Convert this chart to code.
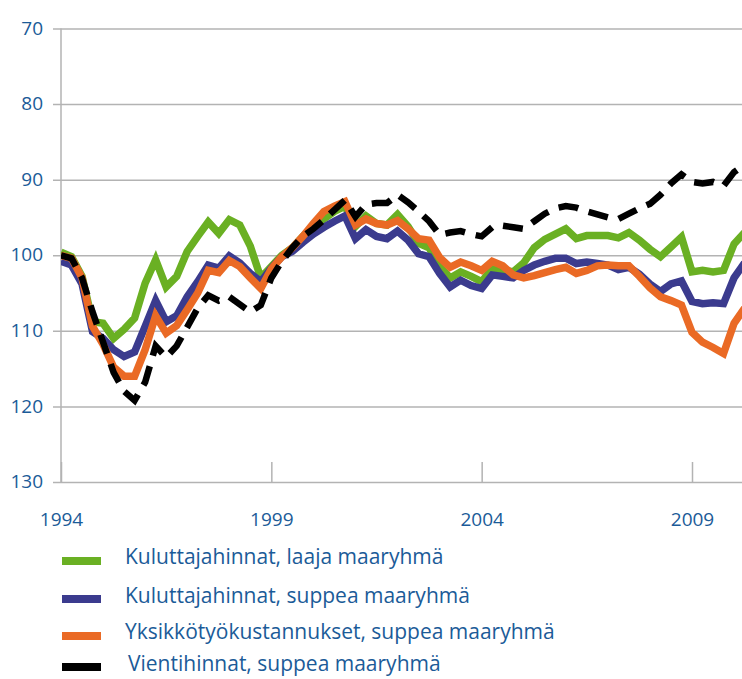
<!DOCTYPE html>
<html>
<head>
<meta charset="utf-8">
<script src="https://cdn.jsdelivr.net/npm/d3@7"></script>
<style>
  body { margin: 0; background: #fff; }
  text { font-family: 'Open Sans', 'Noto Sans', sans-serif; fill: #1b5b98; }
</style>
</head>
<body>
<div id="chart"></div>
<script>
// quarterly index values, 1994Q1 onwards
const startYear = 1994

const kulLaaja = [
  99.6, 100.2, 102.8, 108.8, 109.0, 111.0, 109.8, 108.3, 103.7, 100.6,
  104.2, 102.8, 99.5, 97.5, 95.6, 97.1, 95.3, 96.0, 98.8, 103.0,
  101.5, 100.0, 99.0, 97.5, 96.2, 95.2, 94.2, 93.5, 96.2, 94.8,
  95.8, 96.0, 94.6, 96.2, 98.4, 99.0, 101.5, 103.0, 102.2, 102.8,
  103.5, 101.8, 101.9, 102.2, 101.0, 99.0, 97.9, 97.2, 96.5, 97.8,
  97.4, 97.4, 97.4, 97.7, 97.0, 98.0, 99.2, 100.2, 98.9, 97.6,
  102.2, 102.0, 102.2, 102.0, 98.5, 97.0
]

const kulSuppea = [
  100.8, 101.3, 103.8, 110.1, 111.0, 112.5, 113.4, 112.8, 109.4, 106.0,
  108.8, 108.0, 105.5, 103.5, 101.3, 101.7, 100.1, 101.0, 102.4, 103.5,
  101.7, 100.2, 99.5, 98.3, 97.2, 96.3, 95.5, 94.8, 97.8, 96.6,
  97.5, 97.8, 96.8, 98.0, 99.8, 100.2, 102.4, 104.2, 103.3, 104.0,
  104.4, 102.6, 102.8, 103.0, 102.0, 101.3, 100.8, 100.4, 100.4, 101.1,
  100.9, 101.1, 101.3, 101.9, 101.6, 102.5, 103.8, 104.8, 103.8, 103.4,
  106.1, 106.4, 106.3, 106.4, 103.0, 101.0
]

const yksikko = [
  100.0, 100.4, 103.0, 109.4, 111.8, 114.8, 116.0, 116.0, 112.5, 108.0,
  110.3, 109.3, 107.2, 105.0, 102.0, 102.3, 100.7, 101.5, 103.0, 104.4,
  101.8, 100.2, 99.0, 97.5, 95.8, 94.2, 93.5, 92.9, 96.0, 95.2,
  95.8, 96.0, 95.4, 96.5, 97.8, 98.0, 100.3, 101.6, 100.9, 101.4,
  102.0, 100.8, 101.4, 102.6, 103.0, 102.7, 102.3, 101.9, 101.6, 102.4,
  102.0, 101.4, 101.3, 101.4, 101.4, 102.8, 104.3, 105.5, 106.0, 106.6,
  110.2, 111.5, 112.2, 113.0, 109.0, 107.0
]

const vienti = [
  100.0, 100.4, 103.0, 107.5, 111.5, 115.5, 118.0, 119.2, 116.8, 112.0,
  113.5, 112.0, 109.5, 107.0, 105.3, 106.0, 105.5, 106.5, 107.5, 106.6,
  103.0, 100.8, 99.0, 97.5, 96.5, 95.3, 94.0, 92.7, 94.9, 93.3,
  93.1, 93.1, 92.0, 93.0, 94.2, 95.5, 97.3, 97.0, 96.8, 97.2,
  97.5, 96.3, 96.1, 96.3, 96.5, 95.5, 94.5, 93.8, 93.5, 93.7,
  94.2, 94.6, 95.0, 95.2, 94.5, 93.8, 93.2, 92.0, 90.5, 89.3,
  90.3, 90.5, 90.3, 90.8, 89.0, 88.0
]

const yTicks = [70, 80, 90, 100, 110, 120, 130]
const xTicks = [1994, 1999, 2004, 2009]

const seriesNames = [
  'Kuluttajahinnat, laaja maaryhmä',
  'Kuluttajahinnat, suppea maaryhmä',
  'Yksikkötyökustannukset, suppea maaryhmä',
  'Vientihinnat, suppea maaryhmä'
]
const seriesColors = ['#6ab023', '#3b3b8e', '#ea6a25', '#000000']

const series = [kulLaaja, kulSuppea, yksikko, vienti].map((values, k) => ({
  name: seriesNames[k],
  color: seriesColors[k],
  dashed: k === 3,
  points: values.map((v, i) => ({ t: startYear + i / 4, v: v }))
}))

const margin = { top: 28.5, right: 0, bottom: 197, left: 61 }
const totalWidth = 742
const totalHeight = 679
const width = totalWidth - margin.left - margin.right
const height = totalHeight - margin.top - margin.bottom

const svg = d3
  .select('#chart')
  .append('svg')
  .attr('width', totalWidth)
  .attr('height', totalHeight)

const g = svg
  .append('g')
  .attr('transform', 'translate(' + margin.left + ',' + margin.top + ')')

const xPositionScale = d3
  .scaleLinear()
  .domain([1994, 2009])
  .range([0, 631])

const yPositionScale = d3
  .scaleLinear()
  .domain([70, 130])
  .range([0, height])

g.append('clipPath')
  .attr('id', 'plot-clip')
  .append('rect')
  .attr('x', 0)
  .attr('y', -10)
  .attr('width', width)
  .attr('height', height + 20)

// horizontal grid + left ticks
const yAxis = d3
  .axisLeft(yPositionScale)
  .tickValues(yTicks)
  .tickSize(-width)
  .tickPadding(18)
  .tickFormat(d => d)

g.append('g')
  .attr('class', 'axis y-axis')
  .call(yAxis)

g.selectAll('.y-axis .tick line')
  .attr('x1', -8)
  .attr('stroke', '#b3b3b3')
  .attr('stroke-width', 1.5)
g.select('.y-axis .domain').remove()
g.selectAll('.y-axis text')
  .attr('font-size', 19)
  .attr('fill', '#1b5b98')
  .attr('dy', '0.3em')

// vertical axis line
g.append('line')
  .attr('x1', 0)
  .attr('x2', 0)
  .attr('y1', 0)
  .attr('y2', height)
  .attr('stroke', '#b3b3b3')
  .attr('stroke-width', 1.5)

// bottom axis, ticks pointing up into the plot
const xAxis = d3
  .axisBottom(xPositionScale)
  .tickValues(xTicks)
  .tickSize(-20)
  .tickPadding(0)
  .tickFormat(d3.format('d'))

g.append('g')
  .attr('class', 'axis x-axis')
  .attr('transform', 'translate(0,' + height + ')')
  .call(xAxis)

g.select('.x-axis .domain').remove()
g.selectAll('.x-axis .tick line')
  .attr('stroke', '#b3b3b3')
  .attr('stroke-width', 1.5)
g.selectAll('.x-axis text')
  .attr('font-size', 19)
  .attr('fill', '#1b5b98')
  .attr('y', 31)

const line = d3
  .line()
  .x(d => xPositionScale(d.t))
  .y(d => yPositionScale(d.v))

g.append('g')
  .attr('clip-path', 'url(#plot-clip)')
  .selectAll('path')
  .data(series)
  .enter()
  .append('path')
  .attr('d', d => line(d.points))
  .attr('fill', 'none')
  .attr('stroke', d => d.color)
  .attr('stroke-width', d => (d.dashed ? 6.5 : 7.5))
  .attr('stroke-dasharray', d => (d.dashed ? '20,11' : null))
  .attr('stroke-linejoin', 'miter')

// legend
const swatchRows = [561, 599, 636, 667]
const labelRows = [557, 596, 632, 664]

const legend = svg
  .selectAll('.legend-item')
  .data(series)
  .enter()
  .append('g')
  .attr('class', 'legend-item')

legend
  .append('rect')
  .attr('x', 62)
  .attr('y', (d, i) => swatchRows[i] - 4)
  .attr('width', 39)
  .attr('height', 8)
  .attr('fill', d => d.color)

legend
  .append('text')
  .attr('x', (d, i) => (i === 3 ? 128 : 125))
  .attr('y', (d, i) => labelRows[i])
  .attr('dy', '0.35em')
  .attr('font-size', 21)
  .text(d => d.name)
</script>
</body>
</html>
